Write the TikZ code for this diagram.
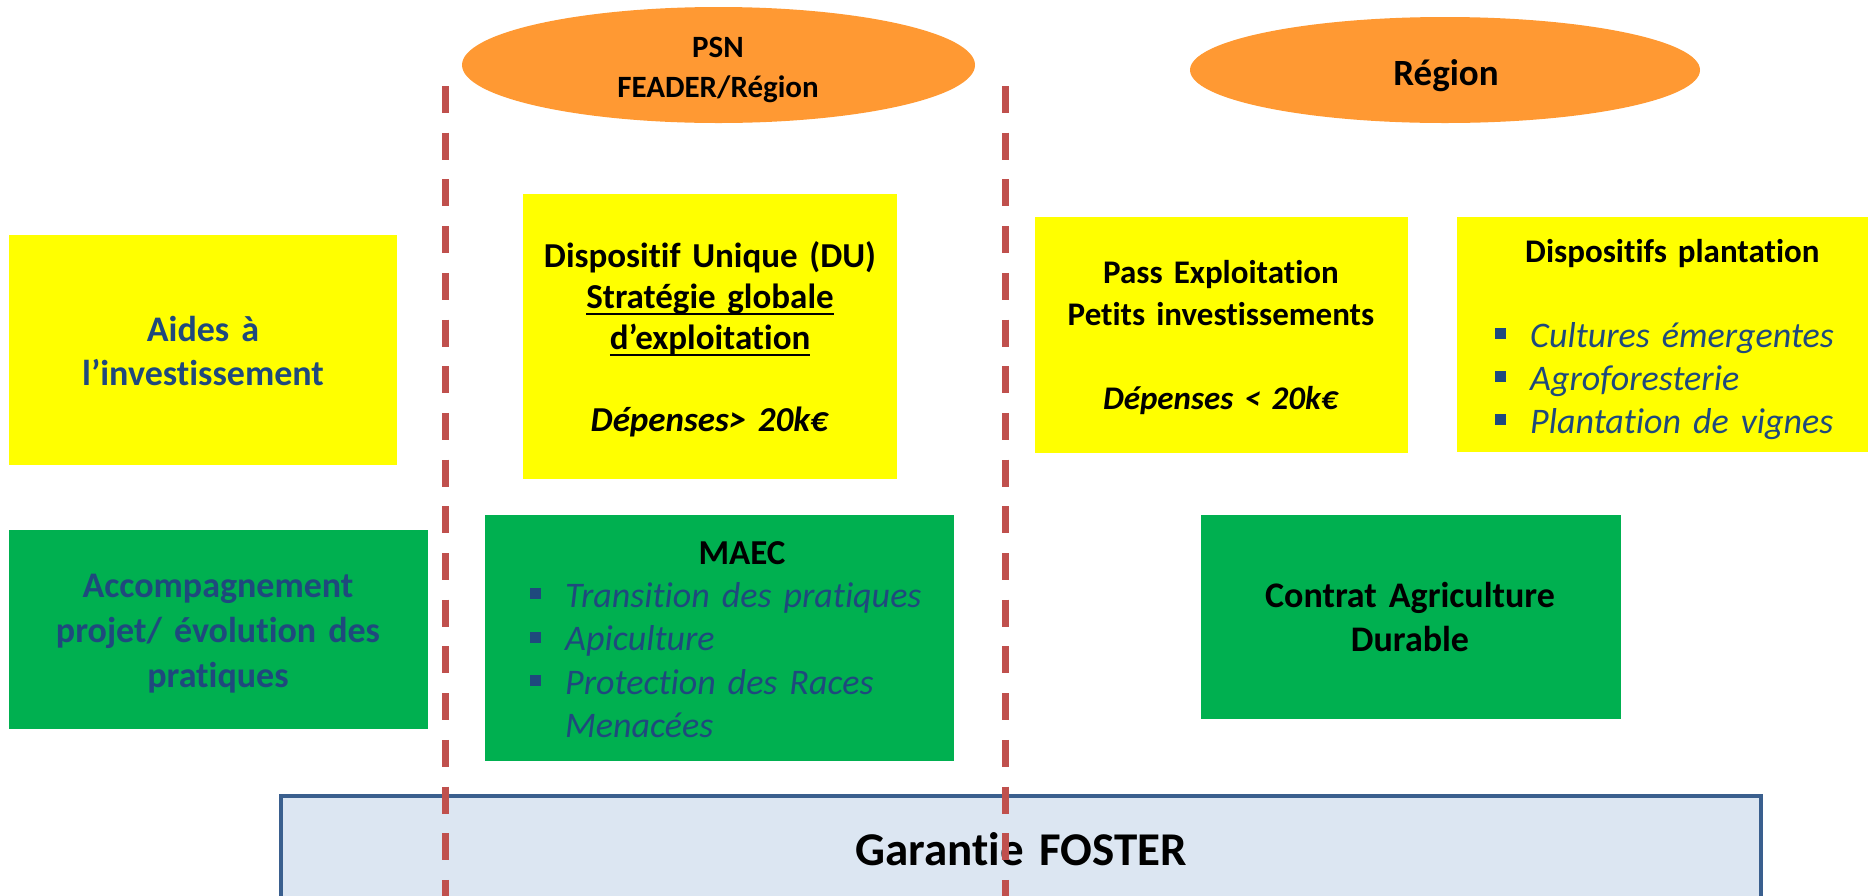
\documentclass[tikz,border=0pt]{standalone}
\usepackage{fontspec}
\setmainfont{Carlito}[Ligatures=NoCommon]
\usetikzlibrary{shapes.geometric}
\definecolor{jaune}{HTML}{FFFF00}
\definecolor{vert}{HTML}{00B050}
\definecolor{orange}{HTML}{FF9933}
\definecolor{bleu}{HTML}{1F497D}
\definecolor{rouge}{HTML}{C0504D}
\definecolor{ciel}{HTML}{DCE6F2}
\definecolor{cadre}{HTML}{3A5F8E}
\newsavebox{\soulbox}
\newcommand{\souligne}[1]{\leavevmode\sbox{\soulbox}{#1}\rlap{\rule[-7pt]{\wd\soulbox}{2.5pt}}\usebox{\soulbox}}
\newcommand{\taille}[2]{\fontsize{#1}{#2}\selectfont}
\newcommand{\puce}{\leavevmode\llap{\textcolor{bleu}{\rule[8pt]{11pt}{11pt}}\hspace{24pt}}}
\tikzset{ybox/.style = {rectangle, fill=jaune, inner sep=0pt, outer sep=0pt, anchor=north west},
         gbox/.style = {rectangle, fill=vert, inner sep=0pt, outer sep=0pt, anchor=north west},
         oval/.style = {ellipse, fill=orange, inner sep=0pt},
         fbox/.style = {rectangle, draw=cadre, fill=ciel, line width=4pt, inner sep=0pt, outer sep=0pt, anchor=north west},
         txt/.style = {inner sep=0pt, anchor=base, align=center, text width=460pt},
         liste/.style = {inner sep=0pt, anchor=base west, align=left, text width=420pt, text=bleu},
         tiret/.style = {draw=rouge, line width=7pt, dash pattern=on 27pt off 19.7pt}}

\begin{document}
\begin{tikzpicture}[x=1pt,y=-1pt]
        \useasboundingbox (0,0) rectangle (1868,895);
        \clip (0,0) rectangle (1868,895);
        % financeurs
        \node[oval, minimum width=513pt, minimum height=116pt](psn)at(718.5,65){};
        \node[oval, minimum width=510pt, minimum height=106pt](region)at(1445,70){};
        \node[txt, font=\bfseries\taille{31}{40}](psntxt)at(718,57){PSN\\FEADER/Région};
        \node[txt, font=\bfseries\taille{37}{44}](regiontxt)at(1446,85){Région};
        % investissement
        \node[ybox, minimum width=388pt, minimum height=230pt](aides)at(9,235){};
        \node[ybox, minimum width=374pt, minimum height=285pt](du)at(523,194){};
        \node[ybox, minimum width=373pt, minimum height=236pt](pass)at(1035,217){};
        \node[ybox, minimum width=430pt, minimum height=235pt](plant)at(1457,217){};
        \node[txt, text=bleu, font=\bfseries\taille{36}{44}](aidestxt)at(203,341){Aides à\\l’investissement};
        \node[txt, font=\bfseries\taille{35}{41}](dutxt)at(710,267){Dispositif Unique (DU)\\\souligne{Stratégie globale}\\\souligne{d’exploitation}\\[41pt]\textit{Dépenses> 20k€}};
        \node[txt, font=\bfseries\taille{33}{42}](passtxt)at(1221,283){Pass Exploitation\\Petits investissements\\[42pt]\textit{Dépenses < 20k€}};
        \node[txt, anchor=base west, align=left, font=\bfseries\taille{33}{42}](planttitre)at(1525,262){Dispositifs plantation};
        \node[liste, font=\itshape\taille{36}{43}](plantliste)at(1530,347){\puce Cultures émergentes\\\puce Agroforesterie\\\puce Plantation de vignes};
        % pratiques
        \node[gbox, minimum width=419pt, minimum height=199pt](accomp)at(9,530){};
        \node[gbox, minimum width=469pt, minimum height=246pt](maec)at(485,515){};
        \node[gbox, minimum width=420pt, minimum height=204pt](contrat)at(1201,515){};
        \node[txt, text=bleu, font=\bfseries\taille{36}{45}](accomptxt)at(218,597){Accompagnement\\projet/ évolution des\\pratiques};
        \node[txt, font=\bfseries\taille{35}{43}](maectitre)at(742,564){MAEC};
        \node[liste, font=\itshape\taille{36}{43.5}](maecliste)at(565,607){\puce Transition des pratiques\\\puce Apiculture\\\puce Protection des Races\\Menacées};
        \node[txt, font=\bfseries\taille{36}{44}](contrattxt)at(1410,607){Contrat Agriculture\\Durable};
        % garantie
        \node[fbox, minimum width=1480pt, minimum height=160pt](foster)at(281,796){};
        \node[txt, font=\bfseries\taille{47}{56}](fostertxt)at(1021,865){Garantie FOSTER};
        % limites PSN
        \coordinate(g1)at(445,86);
        \coordinate(g2)at(445,900);
        \coordinate(d1)at(1005,86);
        \coordinate(d2)at(1005,900);
        \draw[tiret](g1)--(g2);
        \draw[tiret](d1)--(d2);
\end{tikzpicture}
\end{document}
